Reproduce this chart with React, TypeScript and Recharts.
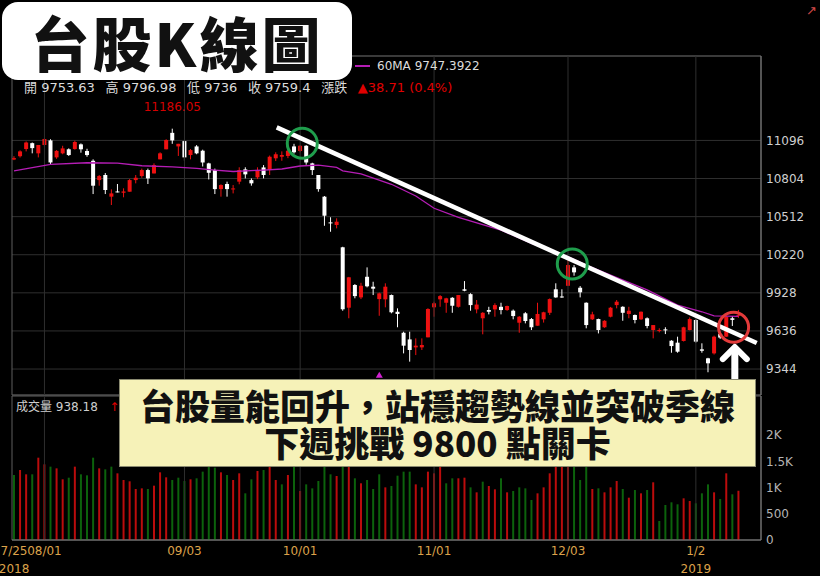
import React from "react";
import {
  ComposedChart,
  Bar,
  Line,
  XAxis,
  YAxis,
  CartesianGrid,
  ReferenceLine,
  ReferenceArea,
  ReferenceDot,
  Cell,
} from "recharts";

// 2018/07/25 .. 2019/01/11, one entry per trading day
const tickIdx = [0, 5, 28, 47, 69, 91, 112];
const tickLabels = ["7/25", "08/01", "09/03", "10/01", "11/01", "12/03", "1/2"];
const yearLabels = ["2018", "", "", "", "", "", "2019"];

const opens = [
  10950, 10975, 11030, 11075, 10997, 11061, 11096, 10966, 10997, 11028,
  11030, 11066, 11015, 10940, 10792, 10831, 10665, 10705, 10695, 10703,
  10792, 10823, 10869, 10843, 10951, 11028, 11154, 11050, 11091, 10984,
  11050, 11017, 10920, 10869, 10723, 10762, 10721, 10780, 10874, 10792,
  10813, 10889, 10869, 10959, 10971, 10977, 11050, 11015, 11055, 10920,
  10831, 10665, 10468, 10448, 10277, 9814, 9988, 9893, 10051, 9975,
  9880, 9878, 9911, 9783, 9622, 9571, 9510, 9510, 9587, 9817,
  9878, 9852, 9890, 9821, 9955, 9918, 9801, 9733, 9796, 9801,
  9821, 9796, 9791, 9699, 9771, 9727, 9676, 9725, 9775, 9955,
  9900, 9982, 10123, 9967, 9852, 9725, 9727, 9664, 9745, 9834,
  9821, 9766, 9758, 9725, 9733, 9643, 9638, 9648, 9561, 9546,
  9559, 9643, 9720, 9495, 9426, 9464, 9612, 9592, 9733, 9753.63,
];

const highs = [
  10975, 11020, 11088, 11080, 11061, 11112, 11105, 11022, 11055, 11035,
  11094, 11073, 11032, 10951, 10831, 10846, 10721, 10762, 10729, 10800,
  10831, 10880, 10880, 10920, 11005, 11105, 11186.05, 11070, 11100, 11030,
  11060, 11025, 10925, 10880, 10760, 10780, 10754, 10890, 10890, 10805,
  10890, 10907, 10980, 11005, 11012, 11030, 11070, 11060, 11060, 10925,
  10831, 10670, 10507, 10499, 10281, 10050, 9995, 10005, 10123, 10013,
  9930, 10001, 9915, 9809, 9630, 9630, 9579, 9579, 9810, 9860,
  9911, 9890, 9895, 9911, 10018, 9925, 9873, 9780, 9821, 9848,
  9852, 9830, 9800, 9750, 9780, 9735, 9852, 9783, 9885, 10001,
  9955, 10192, 10141, 9980, 9855, 9783, 9730, 9718, 9820, 9873,
  9825, 9821, 9762, 9785, 9740, 9681, 9656, 9664, 9565, 9592,
  9668, 9740, 9725, 9541, 9430, 9600, 9628, 9750, 9750, 9796.98,
];

const lows = [
  10945, 10965, 11012, 10997, 10966, 11050, 10910, 10955, 10990, 10977,
  11025, 11002, 10971, 10685, 10749, 10685, 10601, 10698, 10660, 10703,
  10767, 10810, 10762, 10843, 10951, 11028, 11070, 10977, 10940, 10951,
  10990, 10896, 10797, 10685, 10665, 10665, 10690, 10760, 10805, 10749,
  10800, 10805, 10831, 10938, 10940, 10960, 10995, 11005, 10910, 10831,
  10703, 10442, 10396, 10422, 9791, 9733, 9886, 9880, 9970, 9911,
  9752, 9817, 9771, 9664, 9464, 9400.61, 9451, 9490, 9587, 9745,
  9821, 9775, 9775, 9815, 9940, 9791, 9771, 9610, 9763, 9745,
  9763, 9790, 9725, 9622, 9694, 9643, 9676, 9700, 9758, 9890,
  9890, 9980, 10059, 9893, 9656, 9720, 9617, 9660, 9740, 9809,
  9714, 9733, 9694, 9720, 9656, 9579, 9625, 9612, 9469, 9469,
  9555, 9640, 9546, 9469, 9319.28, 9455, 9575, 9590, 9674, 9736,
];

const closes = [
  10960, 11012, 11080, 11037, 11061, 11107, 10927, 11016, 11035, 10984,
  11084, 11028, 10984, 10749, 10823, 10716, 10690, 10700, 10705, 10792,
  10810, 10869, 10805, 10907, 10997, 11099, 11096, 11070, 10966, 11022,
  10997, 10927, 10848, 10723, 10754, 10723, 10728, 10869, 10836, 10767,
  10869, 10831, 10971, 10990, 10984, 11017, 11005, 11055, 10927, 10869,
  10723, 10519, 10460, 10473, 9802, 10047, 9903, 9982, 9978, 9960,
  9924, 9975, 9779, 9766, 9523, 9490, 9523, 9528, 9804, 9848,
  9903, 9886, 9829, 9911, 9944, 9834, 9838, 9775, 9783, 9834,
  9796, 9827, 9750, 9745, 9712, 9664, 9766, 9779, 9880, 9893,
  9895, 10141, 10085, 9932, 9681, 9763, 9643, 9714, 9814, 9860,
  9775, 9791, 9720, 9783, 9674, 9681, 9643, 9640, 9520, 9477,
  9664, 9727, 9554, 9484, 9388, 9592, 9585, 9745, 9720.69, 9759.4,
];

// 成交量 (億)
const volumes = [
  1238, 1333, 1251, 1251, 1568, 1441, 1397, 1365, 1156, 1187,
  1397, 1251, 1232, 1568, 1365, 1346, 1397, 1270, 1143, 1118,
  972, 984, 972, 1035, 1289, 1194, 1143, 1187, 1124, 1156,
  1175, 1302, 1420, 1378, 1289, 1238, 1143, 1270, 889, 1156,
  1314, 1333, 1524, 1143, 1060, 1238, 1400, 933, 1060, 984,
  1124, 1420, 1251, 1219, 2100, 1650, 1175, 1080, 1143, 972,
  1251, 1003, 1029, 1225, 1302, 1302, 1060, 1003, 1302, 1270,
  1420, 1080, 1175, 1175, 1187, 1003, 908, 1111, 1029, 965,
  1175, 908, 933, 1003, 984, 762, 889, 1003, 1270, 1450,
  1480, 1600, 1500, 1143, 1420, 972, 984, 908, 1003, 1124,
  972, 806, 952, 889, 952, 1099, 362, 667, 718, 680,
  794, 743, 699, 889, 1060, 908, 781, 1270, 870, 938.18,
];
const closeBefore = 10980;

// 60MA
const maIdx = [0, 6, 12, 17, 21, 26, 30, 33, 36, 41, 44, 47, 50, 53, 54, 57, 62, 66, 69, 73, 80, 85, 91, 94, 98, 104, 109, 113, 115, 119];
const maVal = [
  10862, 10912, 10925, 10922, 10902, 10894, 10882, 10869, 10858, 10869,
  10877, 10900, 10907, 10889, 10863, 10840, 10760, 10670, 10576, 10507,
  10409, 10307, 10205, 10141, 10064, 9950, 9834, 9783, 9752, 9747.3922,
];

const priceTicks = [9344, 9636, 9928, 10220, 10512, 10804, 11096];
const volTicks = [0, 500, 1000, 1500, 2000];

// annotations
const trendStart = { x: 43.15, y: 11196 };
const trendEnd = { x: 122, y: 9543 };
const circleIdx = [47.35, 91.7, 118.2];
const circlePrice = [11074, 10149, 9664];
const arrowIdx = 118.4;
const arrowPrice = 9528;
const signalIdx = 60;
const signalPrice = 9300;

const X_MIN = -0.33;
const X_MAX = 122.7;
const P_MIN = 9145;
const P_MAX = 11743;
const V_MAX = 2743;

const UP = "#ee1111";
const DOWN = "#ffffff";
const GRID = "#2f2f2f";
const BORDER = "#5e5e5e";
const CJK = '"Noto Sans CJK TC", sans-serif';

const rows = opens.map((o, i) => ({
  i,
  o,
  h: highs[i],
  l: lows[i],
  c: closes[i],
  range: [lows[i], highs[i]],
  v: volumes[i],
  ma: null as number | null,
}));
maIdx.forEach((idx, k) => {
  rows[idx].ma = maVal[k];
});

const Candle = (props: any) => {
  const { x, y, width, height, payload } = props;
  if (!payload || height == null) return null;
  const { o, h, l, c } = payload;
  const top = Math.min(y, y + height);
  const span = Math.abs(height);
  const py = (v: number) => top + ((h - v) / (h - l)) * span;
  const color = c >= o ? UP : DOWN;
  const cx = x + width / 2;
  const b1 = py(Math.max(o, c));
  const b2 = py(Math.min(o, c));
  return (
    <g>
      <line x1={cx} x2={cx} y1={top} y2={top + span} stroke={color} strokeWidth={1} />
      <rect x={x} y={b1} width={width} height={Math.max(1, b2 - b1)} fill={color} />
    </g>
  );
};

const DateTick = (props: any) => {
  const { x, y, payload } = props;
  const k = tickIdx.indexOf(payload.value);
  return (
    <g>
      <text x={x} y={y + 15} textAnchor="middle" fill="#dca24a" fontSize={12}>
        {tickLabels[k]}
      </text>
      {yearLabels[k] ? (
        <text x={x} y={y + 33} textAnchor="middle" fill="#dca24a" fontSize={12}>
          {yearLabels[k]}
        </text>
      ) : null}
    </g>
  );
};

const last = rows.length - 1;
const change = closes[last] - closes[last - 1];
const changePct = (change / closes[last - 1]) * 100;
const maxHigh = Math.max(...highs);
const maxIdx = highs.indexOf(maxHigh);

const GAP = "\u2002 ";
const quoteText =
  `開 ${opens[last].toFixed(2)}${GAP}高 ${highs[last].toFixed(2)}${GAP}` +
  `低 ${lows[last]}${GAP}收 ${closes[last]}${GAP}漲跌${GAP}`;
const changeText = `${change >= 0 ? "▲" : "▼"}${Math.abs(change).toFixed(2)} (${changePct.toFixed(1)}%)`;

export default function App() {
  return (
    <div
      style={{
        position: "absolute",
        left: 0,
        top: 0,
        width: 820,
        height: 576,
        background: "#000",
        overflow: "hidden",
        fontFamily: '"DejaVu Sans", "Noto Sans CJK TC", sans-serif',
      }}
    >
      <div style={{ position: "absolute", left: 0, top: 0 }}>
        <ComposedChart
          width={820}
          height={400}
          data={rows}
          margin={{ top: 56, right: 0, bottom: 5, left: 12 }}
        >
          <CartesianGrid vertical={false} stroke={GRID} />
          <XAxis type="number" dataKey="i" domain={[X_MIN, X_MAX]} allowDataOverflow hide />
          <YAxis
            orientation="right"
            domain={[P_MIN, P_MAX]}
            allowDataOverflow
            ticks={priceTicks}
            interval={0}
            width={59}
            tickLine={false}
            tickSize={0}
            tickMargin={5}
            axisLine={{ stroke: "#7a7a7a" }}
            tick={{ fill: "#cfcfcf", fontSize: 12 }}
          />
          {tickIdx.slice(1).map((t) => (
            <ReferenceLine key={t} x={t} stroke={GRID} />
          ))}
          <ReferenceArea x1={X_MIN} x2={X_MAX} y1={P_MIN} y2={P_MAX} fill="none" stroke={BORDER} />
          <Line
            dataKey="ma"
            type="linear"
            stroke="#b51db5"
            strokeWidth={1.3}
            dot={false}
            connectNulls
            isAnimationActive={false}
          />
          <Bar dataKey="range" barSize={4} shape={Candle} isAnimationActive={false} />
          <ReferenceLine segment={[trendStart, trendEnd]} stroke="#ffffff" strokeWidth={4.5} />
          {circleIdx.map((ci, k) => (
            <ReferenceDot
              key={k}
              x={ci}
              y={circlePrice[k]}
              r={15}
              shape={(p: any) => (
                <circle
                  cx={p.cx}
                  cy={p.cy}
                  r={15}
                  fill="none"
                  stroke={k < 2 ? "#1f9d4c" : "#e23a3a"}
                  strokeWidth={3}
                />
              )}
            />
          ))}
          <ReferenceDot
            x={maxIdx}
            y={maxHigh}
            r={1}
            shape={(p: any) => (
              <text x={p.cx} y={p.cy - 18} textAnchor="middle" fill="#d40000" fontSize={12}>
                {maxHigh.toFixed(2)}
              </text>
            )}
          />
          <ReferenceDot
            x={signalIdx}
            y={signalPrice}
            r={1}
            shape={(p: any) => (
              <path
                d={`M${p.cx} ${p.cy - 3} L${p.cx + 3.5} ${p.cy + 3} L${p.cx - 3.5} ${p.cy + 3} Z`}
                fill="#d020d0"
              />
            )}
          />
          <ReferenceDot
            x={arrowIdx}
            y={arrowPrice}
            r={1}
            ifOverflow="visible"
            shape={(p: any) => (
              <g stroke="#ffffff" fill="none" strokeLinecap="round" strokeLinejoin="round">
                <path d={`M${p.cx} ${p.cy + 4} L${p.cx} ${p.cy + 40}`} strokeWidth={7} />
                <path
                  d={`M${p.cx - 12} ${p.cy + 14} L${p.cx} ${p.cy + 2} L${p.cx + 12} ${p.cy + 14}`}
                  strokeWidth={6}
                />
              </g>
            )}
          />
        </ComposedChart>
      </div>

      <div style={{ position: "absolute", left: 0, top: 390 }}>
        <ComposedChart
          width={820}
          height={186}
          data={rows}
          margin={{ top: 6, right: 0, bottom: 0, left: 12 }}
        >
          <XAxis
            type="number"
            dataKey="i"
            domain={[X_MIN, X_MAX]}
            allowDataOverflow
            ticks={tickIdx}
            interval={0}
            tick={DateTick}
            tickLine={false}
            tickSize={0}
            tickMargin={0}
            axisLine={{ stroke: "#7a7a7a" }}
            height={36}
          />
          <YAxis
            orientation="right"
            domain={[0, V_MAX]}
            allowDataOverflow
            ticks={volTicks}
            interval={0}
            width={59}
            tickLine={false}
            tickSize={0}
            tickMargin={5}
            axisLine={{ stroke: "#7a7a7a" }}
            tick={{ fill: "#b4b4b4", fontSize: 12 }}
            tickFormatter={(v: number) => (v >= 1000 ? `${v / 1000}K` : `${v}`)}
          />
          {tickIdx.slice(1).map((t) => (
            <ReferenceLine key={t} x={t} stroke={GRID} />
          ))}
          <ReferenceArea x1={X_MIN} x2={X_MAX} y1={0} y2={V_MAX} fill="none" stroke={BORDER} />
          <Bar dataKey="v" barSize={2} isAnimationActive={false}>
            {rows.map((r, i) => (
              <Cell key={i} fill={r.c >= (i === 0 ? closeBefore : closes[i - 1]) ? "#bb0c0c" : "#0c620c"} />
            ))}
          </Bar>
        </ComposedChart>
      </div>

      {/* legend + quote line */}
      <div style={{ position: "absolute", left: 355, top: 65, width: 15, height: 1.5, background: "#b51db5" }} />
      <div style={{ position: "absolute", left: 377, top: 58, fontSize: 12, lineHeight: "16px", color: "#dcdcdc" }}>
        60MA {maVal[maVal.length - 1].toFixed(4)}
      </div>
      <div
        style={{
          position: "absolute",
          left: 24,
          top: 80,
          fontSize: 13,
          lineHeight: "16px",
          color: "#dcdcdc",
          whiteSpace: "pre",
        }}
      >
        {quoteText}
        <span style={{ color: "#e00000" }}>{changeText}</span>
      </div>

      <div style={{ position: "absolute", left: 16, top: 399, fontSize: 12, lineHeight: "16px", color: "#cfcfcf", whiteSpace: "pre" }}>
        {`成交量 ${volumes[last].toFixed(2)}   `}
        <span style={{ color: "#e00000" }}>↑</span>
      </div>

      <div style={{ position: "absolute", left: 806, top: 3, fontSize: 13, lineHeight: "16px", color: "#d24848" }}>↗</div>

      {/* title */}
      <div
        style={{
          position: "absolute",
          left: 2,
          top: 2,
          width: 350,
          height: 78,
          background: "#ffffff",
          borderRadius: 16,
          display: "flex",
          alignItems: "center",
          justifyContent: "center",
          lineHeight: 1,
          fontSize: 59,
          fontWeight: 900,
          letterSpacing: 3,
          color: "#111",
          fontFamily: CJK,
        }}
      >
        <span>台股K線圖</span>
      </div>

      {/* comment box */}
      <div
        style={{
          position: "absolute",
          left: 119,
          top: 379,
          width: 637,
          height: 88,
          boxSizing: "border-box",
          background: "#f6f2b8",
          border: "1px solid #8a8a70",
          textAlign: "center",
          paddingTop: 6,
          fontSize: 35,
          lineHeight: "37px",
          fontWeight: 900,
          color: "#111",
          fontFamily: CJK,
        }}
      >
        <div>台股量能回升，站穩趨勢線並突破季線</div>
        <div>下週挑戰 9800 點關卡</div>
      </div>
    </div>
  );
}
